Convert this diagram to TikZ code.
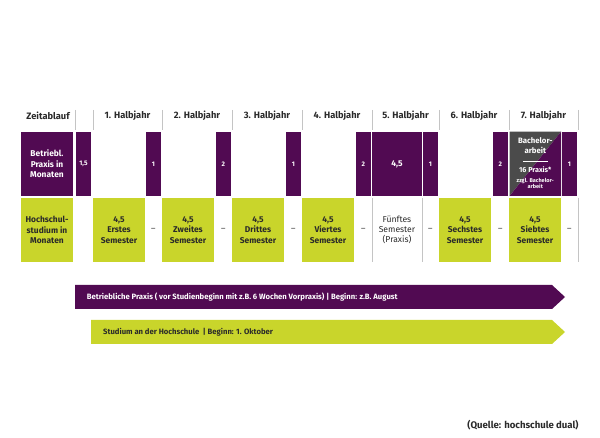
\documentclass[tikz,border=0pt]{standalone}
\usepackage{fontspec}
\setmainfont{Fira Sans}
\definecolor{lila}{HTML}{510A52}
\definecolor{limette}{HTML}{C9D52B}
\definecolor{schiefer}{HTML}{4B4B4B}
\definecolor{linie}{HTML}{C4C4C4}
\definecolor{schrift}{HTML}{2A2A2A}

\begin{document}
\begin{tikzpicture}[x=1pt,y=-1pt,
    praxis/.style={fill=lila, text=white, inner sep=0pt, minimum height=64.3pt, align=center, font=\bfseries\fontsize{8.4}{10.3}\selectfont},
    studium/.style={fill=limette, text=schrift, inner sep=0pt, minimum height=64.6pt, align=center, font=\bfseries\fontsize{8.4}{10.3}\selectfont},
    klein/.style={praxis, minimum width=15.6pt, font=\bfseries\fontsize{6.6}{7}\selectfont},
    kopf/.style={text=schrift, font=\bfseries\fontsize{9.3}{10}\selectfont},
    strich/.style={text=gray, font=\bfseries\fontsize{8.4}{10}\selectfont},
    band/.style={anchor=west, inner sep=0pt, font=\bfseries\fontsize{7.7}{8}\selectfont}]
    \useasboundingbox (0,0) rectangle (600,438);
    \foreach \x in {75,93,162,232,302,372,439,509,578}
        \draw[linie, line width=0.8pt] (\x,110) -- (\x,130);
    \foreach \x in {372,422,578}
        \draw[linie, line width=0.8pt] (\x,197.7) -- (\x,262.3);
    \node[kopf] (zeit) at (48,116) {Zeitablauf};
    \foreach \l/\r/\i in {93/162/1,162/232/2,232/302/3,302/372/4,372/439/5,439/509/6,509/578/7}
        \node[kopf] (h\i) at ({(\l+\r)/2},116) {\i. Halbjahr};
    \node[praxis, minimum width=52pt] (praxislabel) at (47,163.85) {Betriebl.\\Praxis in\\Monaten};
    \node[studium, minimum width=52pt] (studiumlabel) at (47,230) {Hochschul-\\studium in\\Monaten};
    \node[klein, minimum width=15pt] (k0) at (83.5,163.85) {1,5};
    \foreach \r/\v/\i in {162/1/1,232/2/2,302/1/3,372/2/4,439/1/5,509/2/6,578/1/7}{
        \node[klein] (k\i) at ({\r-8.7},163.85) {\v};
        \node[strich] (d\i) at ({\r-8.7},230) {--};
    }
    \node[praxis, minimum width=49.4pt] (p5) at (397,163.85) {4,5};
    \foreach \l/\t/\i in {93/Erstes/1,162/Zweites/2,232/Drittes/3,302/Viertes/4,439/Sechstes/6,509/Siebtes/7}
        \node[studium, minimum width=51.5pt] (s\i) at ({\l+26},230) {4,5\\\t\\Semester};
    \node[align=center, text=schrift, font=\fontsize{8.6}{10.3}\selectfont] (s5) at (397,230) {Fünftes\\Semester\\(Praxis)};
    \fill[schiefer] (509.5,131.7) -- (561,131.7) -- (509.5,196) -- cycle;
    \fill[lila] (561,131.7) -- (561,196) -- (509.5,196) -- cycle;
    \node[align=center, text=white, font=\bfseries\fontsize{7.8}{9.5}\selectfont] (ba) at (535.3,145.5) {Bachelor-\\arbeit};
    \draw[white, line width=0.9pt] (523,161) -- (548,161);
    \node[text=white, font=\bfseries\fontsize{7.2}{8}\selectfont] (bp) at (535.3,169.5) {16 Praxis*};
    \node[align=center, text=white, font=\bfseries\fontsize{5.5}{6.3}\selectfont] (bz) at (535.3,183.5) {zzgl. Bachelor-\\arbeit};
    \fill[lila] (75,285) -- (552,285) -- (565,297) -- (552,309) -- (75,309) -- cycle;
    \node[band, text=white] (praxisband) at (86.7,297) {Betriebliche Praxis ( vor Studienbeginn mit z.B. 6 Wochen Vorpraxis) | Beginn: z.B. August};
    \fill[limette] (91,320) -- (552,320) -- (565,332) -- (552,344) -- (91,344) -- cycle;
    \node[band, text=schrift] (studiumband) at (103,332) {Studium an der Hochschule~ | Beginn: 1. Oktober};
    \node[text=schrift, font=\bfseries\fontsize{9.6}{10}\selectfont] (quelle) at (523,425) {(Quelle: hochschule dual)};
\end{tikzpicture}
\end{document}
